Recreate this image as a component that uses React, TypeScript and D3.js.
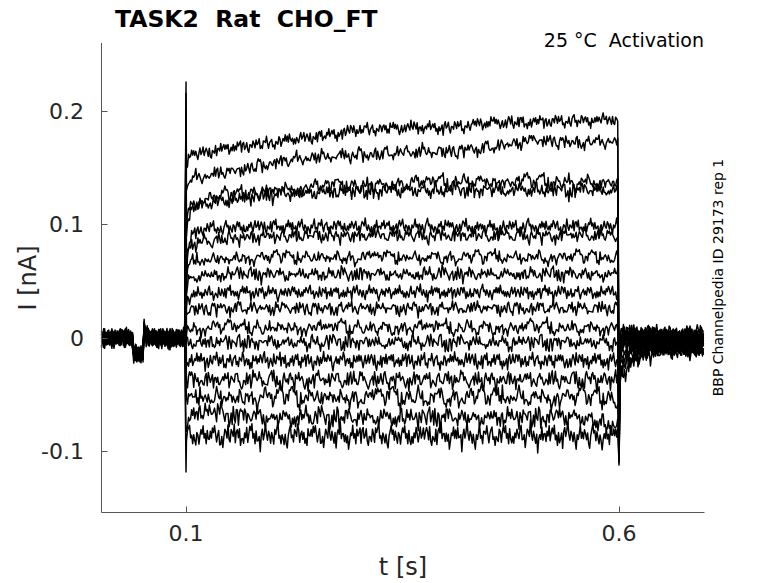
import { useMemo } from 'react';
import * as d3 from 'd3';

// pulse: anchor times (s) and current levels (nA) for each sweep, top to bottom
const stepTimes = [0.1005, 0.102, 0.106, 0.12, 0.15, 0.2, 0.25, 0.3, 0.35, 0.4, 0.45, 0.5, 0.55, 0.6];
const stepLevels = [
  [0.150, 0.156, 0.161, 0.163, 0.167, 0.172, 0.177, 0.183, 0.185, 0.185, 0.189, 0.190, 0.191, 0.192],
  [0.130, 0.137, 0.140, 0.142, 0.146, 0.154, 0.159, 0.161, 0.163, 0.164, 0.167, 0.174, 0.172, 0.172],
  [0.100, 0.112, 0.119, 0.121, 0.125, 0.130, 0.133, 0.134, 0.136, 0.137, 0.138, 0.137, 0.137, 0.137],
  [0.090, 0.105, 0.115, 0.118, 0.122, 0.126, 0.128, 0.129, 0.130, 0.130, 0.130, 0.130, 0.130, 0.130],
  [0.055, 0.077, 0.090, 0.096, 0.097, 0.098, 0.098, 0.098, 0.098, 0.098, 0.097, 0.098, 0.098, 0.098],
  [0.055, 0.073, 0.082, 0.084, 0.088, 0.089, 0.090, 0.090, 0.090, 0.090, 0.090, 0.090, 0.090, 0.090],
  [0.048, 0.061, 0.067, 0.069, 0.070, 0.071, 0.071, 0.071, 0.071, 0.071, 0.071, 0.071, 0.071, 0.071],
  [0.040, 0.048, 0.053, 0.055, 0.056, 0.056, 0.056, 0.056, 0.056, 0.056, 0.056, 0.056, 0.056, 0.056],
  [0.030, 0.035, 0.038, 0.039, 0.040, 0.040, 0.040, 0.040, 0.040, 0.040, 0.040, 0.040, 0.040, 0.040],
  [0.020, 0.023, 0.025, 0.026, 0.026, 0.026, 0.026, 0.026, 0.026, 0.026, 0.026, 0.026, 0.026, 0.026],
  [0.006, 0.008, 0.009, 0.009, 0.009, 0.009, 0.009, 0.009, 0.009, 0.009, 0.009, 0.009, 0.009, 0.009],
  [-0.004, -0.004, -0.004, -0.004, -0.004, -0.004, -0.004, -0.004, -0.004, -0.004, -0.004, -0.004, -0.004, -0.004],
  [-0.020, -0.020, -0.020, -0.020, -0.020, -0.020, -0.020, -0.020, -0.020, -0.020, -0.020, -0.020, -0.020, -0.020],
  [-0.036, -0.037, -0.037, -0.037, -0.037, -0.037, -0.037, -0.037, -0.037, -0.037, -0.037, -0.037, -0.037, -0.036],
  [-0.058, -0.056, -0.053, -0.052, -0.052, -0.052, -0.052, -0.052, -0.052, -0.052, -0.052, -0.052, -0.052, -0.053],
  [-0.080, -0.075, -0.068, -0.064, -0.068, -0.070, -0.070, -0.070, -0.070, -0.070, -0.070, -0.070, -0.069, -0.078],
  [-0.086, -0.086, -0.086, -0.086, -0.086, -0.086, -0.086, -0.086, -0.086, -0.086, -0.086, -0.086, -0.086, -0.087],
];

// capacitive transients at step on / off
const onsetPeaks = [0.225, 0.215, 0.2, 0.19, 0.175, 0.165, 0.15, 0.135, 0.12, 0.1, 0.08, 0.06, 0.03, 0.0, -0.04, -0.08, -0.118];
const offsetPeaks = [-0.04, -0.045, -0.05, -0.055, -0.06, -0.065, -0.07, -0.075, -0.08, -0.085, -0.09, -0.095, -0.1, -0.104, -0.107, -0.11, -0.112];

// after the step
const tailTimes = [0.6015, 0.615, 0.64, 0.6987];
const tailLevels = [
  [0.004, 0.004, 0.004, 0.004],
  [0.004, 0.004, 0.003, 0.003],
  [0.003, 0.003, 0.003, 0.003],
  [0.003, 0.003, 0.002, 0.002],
  [0.002, 0.002, 0.001, 0.001],
  [0.002, 0.001, 0.0, 0.0],
  [0.001, 0.0, -0.001, -0.001],
  [0.0, -0.001, -0.002, -0.002],
  [-0.002, -0.003, -0.003, -0.003],
  [-0.004, -0.005, -0.005, -0.004],
  [-0.008, -0.007, -0.006, -0.005],
  [-0.012, -0.009, -0.007, -0.006],
  [-0.018, -0.012, -0.008, -0.007],
  [-0.022, -0.014, -0.009, -0.008],
  [-0.026, -0.016, -0.010, -0.009],
  [-0.030, -0.018, -0.011, -0.010],
  [-0.035, -0.020, -0.012, -0.011],
];

// holding period before the step (shared by all sweeps)
const preTimes = [0.0024, 0.038, 0.0395, 0.0505, 0.0515, 0.053, 0.06, 0.0995];
const preLevels = [0, 0, -0.014, -0.014, 0.011, 0.002, 0, 0];

// recording noise, in pA
const noiseFast = [
  2, -1, 3, 0, -3, 1, 4, -2, -1, 2,
  -4, 0, 3, 1, -2, 5, -1, -3, 2, 0,
  -2, 3, -5, 1, 2, -1, 4, -3, 0, 1,
  -2, 2, -1, 3, -4, -1, 2, 0, 4, -2,
  1, -3, 3, -1, 0, 2, -6, 1, 3, -2,
  0, 4, -1, -3, 2, 1, -2, 3, 0, -4,
  2, -1, 1, 5, -2, 0, -3, 2, 1, -1,
  3, -2, -5, 0, 2, 4, -1, 1, -3, 2,
  0, -2, 3, 1, -4, 0, 2, -1, 3, -2,
  1, -3, 4, 0, -1, 2, -2,
];
const noiseSlow = [
  0, 1, 2, 2, 3, 2, 1, 1, 0, -1,
  -2, -2, -3, -2, -1, 0, 1, 1, 2, 3,
  3, 2, 1, 0, -1, -1, -2, -3, -3, -2,
  -1, 0, 0, 1, 2, 2, 1, 0, -1, -2,
  -2, -1, 0, 1, 2, 3, 2, 1, 0, -1,
  -2, -3, -4, -3, -2, -1, 0, 1, 1, 0,
  -1,
];
const noiseGain = [0.9, 0.9, 1.0, 1.0, 0.9, 0.9, 0.9, 0.9, 0.9, 0.9, 1.0, 1.0, 1.1, 1.2, 1.3, 1.3, 1.5];

const xTicks = [0.1, 0.6];
const xTickLabels = ['0.1', '0.6'];
const yTicks = [0.2, 0.1, 0, -0.1];
const yTickLabels = ['0.2', '0.1', '0', '-0.1'];

const font = 'DejaVu Sans, Verdana, sans-serif';

const App = () => {
  // axes box in page pixels
  const left = 101.5, right = 704.5, top = 43, bottom = 512.5;

  const x = d3.scaleLinear().domain([0.0024, 0.6987]).range([left, right]);
  const y = d3.scaleLinear().domain([-0.1537, 0.2594]).range([bottom, top]);

  const paths = useMemo(() => {
    const dt = 0.0012;
    const noise = (i: number, k: number) =>
      (1.25 * noiseFast[(k * (1 + (i % 4)) + 11 * i) % noiseFast.length] +
        noiseSlow[(k + 7 * i) % noiseSlow.length]) * 0.001;
    const pre = d3.scaleLinear().domain(preTimes).range(preLevels);
    const line = d3.line<[number, number]>().x((d) => x(d[0])).y((d) => y(d[1]));

    return stepLevels.map((levels, i) => {
      const step = d3.scaleLinear().domain(stepTimes).range(levels);
      const tail = d3.scaleLinear().domain(tailTimes).range(tailLevels[i]);
      const pts: [number, number][] = [];
      d3.range(0.0024, 0.0996, dt).forEach((t, k) => pts.push([t, pre(t) + noise(i, k) * 1.0]));
      pts.push([0.1, onsetPeaks[i]]);
      d3.range(0.1005, 0.5996, dt).forEach((t, k) => pts.push([t, step(t) + noise(i, k + 90) * noiseGain[i]]));
      pts.push([0.6, offsetPeaks[i]]);
      d3.range(0.6015, 0.6987, dt).forEach((t, k) => pts.push([t, tail(t) + noise(i, k + 520) * 1.1]));
      return line(pts) || '';
    });
  }, []);

  return (
    <svg width={778} height={583} style={{ position: 'absolute', left: 0, top: 0, background: '#fff' }}>
      {/* sweeps */}
      <g fill="none" stroke="#000" strokeWidth={1.45} strokeLinejoin="round">
        {paths.map((d, i) => (
          <path key={i} d={d} />
        ))}
      </g>

      {/* axes */}
      <g stroke="#555" strokeWidth={1} fill="none">
        <line x1={left} y1={top} x2={left} y2={bottom} />
        <line x1={left} y1={bottom} x2={right} y2={bottom} />
        {yTicks.map((v) => (
          <line key={v} x1={left} x2={left + 6} y1={Math.round(y(v)) + 0.5} y2={Math.round(y(v)) + 0.5} />
        ))}
        {xTicks.map((v) => (
          <line key={v} x1={Math.round(x(v)) + 0.5} x2={Math.round(x(v)) + 0.5} y1={bottom} y2={bottom - 6} />
        ))}
      </g>

      <g fontFamily={font} fill="#262626" fontSize={22}>
        {yTicks.map((v, i) => (
          <text key={v} x={84} y={y(v) + 8} textAnchor="end">
            {yTickLabels[i]}
          </text>
        ))}
        {xTicks.map((v, i) => (
          <text key={v} x={x(v)} y={541} textAnchor="middle">
            {xTickLabels[i]}
          </text>
        ))}
      </g>

      {/* labels */}
      <text x={403} y={575} textAnchor="middle" fontFamily={font} fontSize={24} fill="#262626">
        t [s]
      </text>
      <text transform="translate(36,278) rotate(-90)" textAnchor="middle" fontFamily={font} fontSize={24} fill="#262626">
        I [nA]
      </text>
      <text x={115} y={27} fontFamily={font} fontSize={23.5} fontWeight="bold" fill="#000" style={{ whiteSpace: 'pre' }}>
        {'TASK2  Rat  CHO_FT'}
      </text>
      <text x={704} y={47} textAnchor="end" fontFamily={font} fontSize={19} fill="#000" style={{ whiteSpace: 'pre' }}>
        {'25 °C  Activation'}
      </text>
      <text transform="translate(723,277.5) rotate(-90)" textAnchor="middle" fontFamily={font} fontSize={14} fill="#000">
        BBP Channelpedia ID 29173 rep 1
      </text>
    </svg>
  );
};

export default App;
